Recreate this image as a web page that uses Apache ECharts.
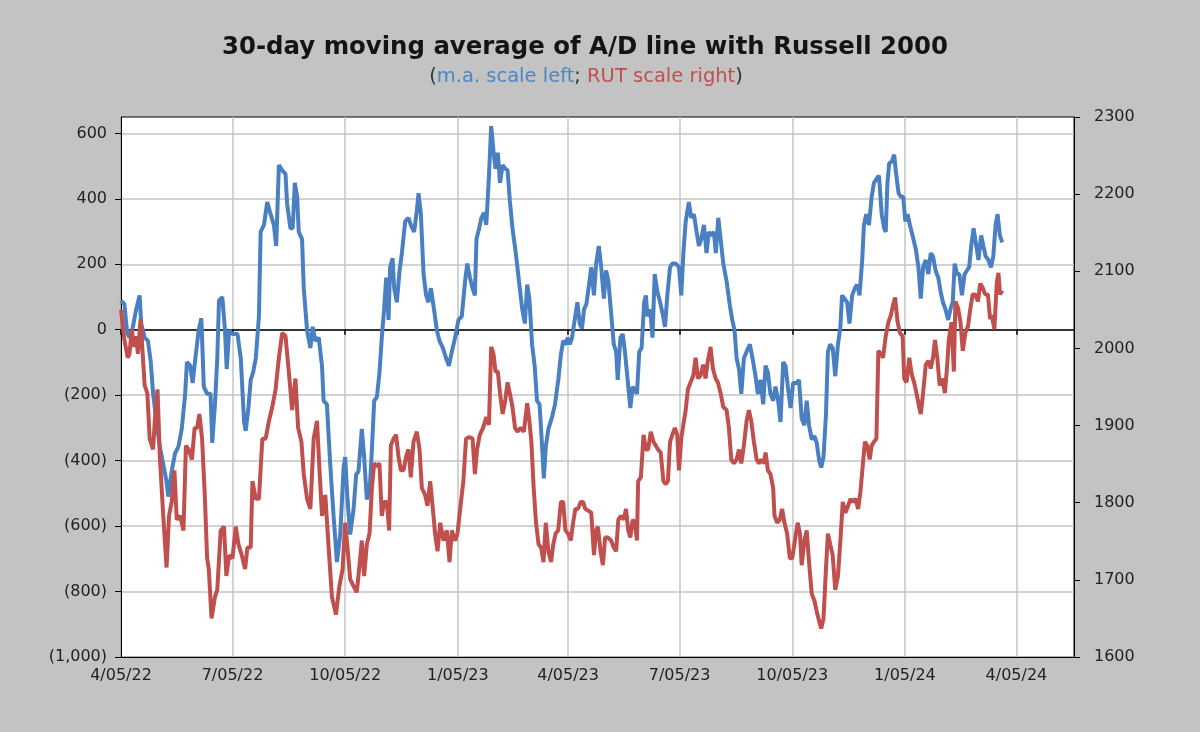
<!DOCTYPE html>
<html><head><meta charset="utf-8">
<script src="https://cdn.jsdelivr.net/npm/echarts@6/dist/echarts.min.js"></script>
<style>html,body{margin:0;padding:0;background:#c3c3c3}#c{width:1200px;height:732px}</style>
</head><body><div id="c"></div>
<script>
// ---- data ----
const startDate = '2022-04-05';
const endDay = 778;                       // right edge of the date axis, days after start
const quarterLabels = ['2022-04-05','2022-07-05','2022-10-05','2023-01-05','2023-04-05','2023-07-05','2023-10-05','2024-01-05','2024-04-05'];
const leftTicks = [-1000,-800,-600,-400,-200,0,200,400,600];
const rightTicks = [1600,1700,1800,1900,2000,2100,2200,2300];

// 30-day moving average of A/D line (left scale): day offset from startDate, value
const adDays = [0,2.8,5,6.9,9.7,12.4,15.2,16.5,19.3,22,24.3,26.2,29,31.7,34.5,37.2,38.6,41.4,44.1,46.9,49.6,52.4,53.8,56.5,58.5,60.7,63.4,65.6,67.6,70.3,73.1,74.5,76.7,78.6,80,82.7,84.9,86.3,88.3,91,95.1,97.8,100.5,101.8,104,105.9,107.8,110,112.6,114,116.7,119.4,122.1,124.8,126.7,128.9,131.6,134.3,135.6,138.3,140.2,141.9,143.8,145.1,147.8,149.2,151.9,154.6,156.5,158.7,161.4,164.1,165.4,168.1,170.8,173.6,176.3,179,181.7,
183,184.9,187.1,189.8,192,193.9,196.6,198.5,200.7,202.9,204.8,206.7,208.9,211,212.9,214.8,216.5,218.4,219.7,221.7,223,225.2,227.4,229.3,232,234.7,236.6,239.3,241.5,242.9,244.8,247,249.1,251,253,255.1,257.9,260,262.8,265.5,267.7,270.1,272.8,275.5,278.2,280.9,282.7,284.9,287,288.9,290.2,292.4,294.2,296.4,298.2,300.4,302.2,304.1,305.7,307.6,309.4,311.6,313.7,315.6,317.4,319.6,322.3,324.9,327.6,329.7,331.6,333.4,335.6,337.7,339.6,341.7,343.6,345.2,346.8,348.9,351.6,354.3,357,359.1,361,363.6,
364.5,366.4,368.2,370.4,372.6,374.5,376.3,378,379.9,381.7,383.9,386.1,387.9,390.1,392,394.2,396,397.9,400.1,402.3,404.2,405.5,407.7,409.6,411.4,413.6,415.8,417.7,419.5,421.2,423.1,425,427.1,428.5,429.8,432,433.9,435.7,437.9,440.1,442,444.1,446,448.2,450.1,452.8,455.5,457.4,459.1,461,463.6,465.5,467.7,469.9,471.8,473.7,475.9,478,479.9,481.8,484,485.6,487.6,489.5,491.7,494.4,497.1,499,500.9,502.6,504.5,506.4,508.5,510.7,513.4,515.6,518,519.9,522.1,524.3,526.2,528.1,530.2,532.4,534.3,536.5,538.4,540.6,542.5,544.4,546.6,548.7,
551.6,553.5,555.7,557.9,559.8,561.7,563.9,566.1,568,570,571.6,573.5,575.5,577.1,579,581,583.1,585.3,587.3,588.6,590,592.8,594.7,596.9,599.1,601,602.9,605.1,606.5,608.4,610.6,612.8,614.7,616.7,618.8,621,623,624.3,625.7,627.1,629.3,631.2,632.6,634.8,636.7,638.6,640.3,642.2,644,646.2,648.9,651,652.9,654.8,657,659.1,661,662.9,665,667.2,669.1,671,673.1,675.3,677.1,679,680.6,682.5,684.4,686.5,688.7,690.6,692.4,694.1,696,697.8,700,702.2,704,705.9,708.1,710.2,712.1,714,715.6,717.5,719.4];
const adValues = [89,78,-8,-24,9,62,105,19,-24,-34,-99,-196,-282,-357,-411,-465,-510,-432,-378,-357,-303,-196,-99,-110,-163,-88,-2,35,-174,-196,-196,-346,-228,-88,89,100,-2,-120,-2,-13,-13,-88,-282,-309,-239,-153,-131,-88,41,299,320,390,353,320,256,503,487,476,385,310,310,449,406,299,277,127,-2,-56,9,-34,-24,-110,-217,-228,-411,-572,-710,-626,-422,
-389,-518,-626,-551,-443,-432,-303,-389,-518,-497,-368,-217,-206,-131,-24,62,159,30,191,218,127,84,181,234,331,342,320,299,363,417,353,170,105,84,127,73,-2,-34,-56,-88,-110,-67,-24,30,41,148,202,159,127,105,277,310,342,358,320,471,622,546,492,541,449,503,492,487,396,310,234,148,62,19,138,95,-45,-110,-217,-228,-346,-454,-357,-303,-271,-228,-153,-77,-34,-45,
-24,-45,-24,30,84,19,3,62,78,127,191,105,202,256,191,95,181,148,52,-45,-67,-153,-24,-13,-67,-153,-239,-174,-185,-196,-67,-56,84,105,41,62,-24,170,116,84,52,9,105,191,202,202,191,105,234,331,390,342,353,299,256,277,320,234,299,288,299,234,342,277,202,148,73,30,-2,-88,-120,-196,-88,-67,-45,-88,-142,-196,-153,-228,-110,-131,-196,-217,-174,-217,-282,-99,-110,-174,-239,-163,
-163,-153,-271,-292,-217,-292,-335,-325,-346,-400,-421,-389,-260,-67,-45,-56,-142,-45,9,105,105,84,19,105,127,138,105,213,320,353,320,406,449,460,471,353,310,299,449,508,514,535,482,417,406,406,331,353,320,288,245,191,95,191,213,170,234,224,181,159,116,84,62,30,62,84,202,170,170,105,170,181,191,256,310,267,213,288,256,224,213,191,224,320,353,288,267];

// Russell 2000 (right scale): day offset from startDate, index level
const rutDays = [0,2.8,5.5,6.9,8.8,10.5,12.4,13.8,16,17.9,19.3,21.5,23.4,26.2,27.6,29.8,31.7,34.5,37.2,39.2,41.4,43.6,45.5,48.3,51,53,55.2,57.9,60.1,62.1,64,66.2,68.4,70.3,71.7,73.9,76.7,78.6,81.4,84.1,86,88.3,91,93.7,95.9,98.6,101.3,103.2,105.9,107.3,110,112.6,115.4,118.1,120.8,123.5,126.2,128.9,131.6,134.3,137,139.7,142.4,144.6,147.3,149.2,151.9,154.6,157.3,160,161.9,164.1,166.8,169.5,172.2,175.5,178.2,180.9,
183,184.9,187.1,189.8,192.5,194.7,196.6,198.5,200.7,202.9,204.8,206.7,208.9,211,212.9,214.8,217,218.9,220.3,222.5,224.6,226.5,228.5,230.6,232.8,234.7,236.6,238.8,241.5,243.7,245.6,248.3,250.2,252.4,254.6,256.4,258.4,260.6,263.3,266,268.2,270.1,272.8,274.7,276.9,279.5,281.7,284.3,287,288.9,290.7,292.9,295.6,298.2,300.4,302.2,304.1,305.7,307.6,309.4,311.6,313.7,315.6,317.4,319.6,321.7,323.6,326.2,328.9,331.6,333.4,335,336.9,338.8,340.9,343,344.9,346.8,348.9,351.1,352.9,354.8,356.9,359.1,361,362.8,
365,367.2,369.1,370.9,373.1,375.3,377.2,379,381.2,383.9,386.1,387.9,389.3,391.5,393.4,395.2,397.4,400.1,402.3,404.2,406,408.2,410.4,412.3,414.1,415.8,417.7,419.5,421.2,422.2,424.4,426.6,428.5,430.3,432.5,434.7,436.6,438.4,440.6,442.8,444.6,446.5,448.2,450.1,452.2,454.1,455.5,457.4,459.1,461,462.8,465,467.2,469.1,471,473.1,475.3,477.2,479.1,481.3,483.2,485.4,487.3,489.5,491.7,494.4,496.3,498.2,500.4,502.6,504.5,506.4,508.5,510.7,512.6,514.5,516.7,518.9,520.8,522.7,524.9,526.2,528.1,530.2,532.4,533.5,535.7,537.8,539.7,541.6,543.8,546,
548,550.2,552.4,554.3,555.7,557.9,559.8,561.7,563.9,566.1,568,570,571.6,573.5,575.5,577.1,579,581,583.1,585.3,587.3,589.2,591.4,593.6,595.5,597.4,599.6,601.8,603.7,605.7,607.3,609.2,611.2,612.8,614.7,616.7,618.3,620.2,622.1,624.3,626.5,628.5,630.4,632,634,635.9,638.1,639.4,641.3,643.5,645.7,647.5,649.4,651.6,652.9,654.8,657,659.1,661,662.9,664.5,666.4,668.3,670.6,672.6,674.5,675.8,678,679.9,681.2,683.4,685.3,687.2,689.3,691.5,693.4,695.3,697.4,699.6,701.5,703.4,705.5,707.7,709.5,710.9,713,714.9,716.3,717.6,719.5];
const rutValues = [2050,2011,1988,1993,2025,2002,2016,1993,2038,1988,1952,1942,1883,1869,1906,1947,1860,1783,1716,1783,1801,1842,1778,1783,1764,1874,1869,1856,1897,1897,1915,1883,1810,1728,1714,1650,1678,1687,1764,1769,1705,1732,1728,1769,1746,1732,1714,1742,1742,1828,1805,1805,1883,1883,1906,1924,1947,1988,2020,2016,1970,1920,1961,1897,1879,1837,1805,1792,1883,1906,1847,1783,1810,1742,1678,1655,1691,1714,
1774,1742,1701,1692,1684,1719,1751,1705,1746,1760,1819,1851,1847,1851,1783,1801,1801,1764,1874,1883,1888,1860,1842,1842,1860,1869,1833,1879,1892,1869,1819,1810,1796,1828,1792,1760,1737,1774,1751,1764,1723,1764,1751,1760,1792,1828,1883,1885,1883,1837,1869,1888,1897,1911,1901,2002,1993,1970,1970,1942,1915,1933,1956,1942,1924,1897,1892,1897,1892,1929,1906,1879,1819,1774,1746,1742,1723,1774,1737,1723,1746,1760,1764,1801,1801,1764,
1760,1751,1774,1792,1792,1801,1801,1792,1790,1787,1732,1764,1769,1737,1719,1755,1755,1751,1742,1737,1778,1783,1778,1792,1764,1755,1778,1774,1751,1828,1833,1888,1869,1869,1892,1879,1874,1869,1865,1828,1824,1828,1879,1888,1897,1888,1842,1883,1901,1920,1947,1956,1965,1988,1961,1965,1979,1961,1984,2002,1974,1961,1956,1942,1924,1920,1897,1856,1851,1856,1869,1851,1874,1906,1920,1906,1879,1856,1851,1856,1851,1865,1842,1837,1819,1783,1774,1778,1792,1774,1760,1728,
1728,1751,1774,1760,1719,1751,1764,1723,1682,1673,1659,1646,1637,1650,1714,1760,1746,1732,1687,1705,1751,1801,1787,1796,1805,1801,1805,1792,1815,1851,1879,1874,1856,1874,1879,1883,1997,1993,1988,2016,2034,2043,2057,2066,2034,2020,2016,1961,1956,1988,1965,1956,1942,1924,1915,1942,1979,1984,1974,1988,2011,1988,1952,1961,1942,1979,2011,2034,1970,2061,2052,2034,1997,2020,2029,2052,2070,2070,2061,2084,2079,2070,2070,2038,2043,2025,2084,2098,2070,2075];

// ---- build ----
const DAY = 86400000;
function parseUTC(s){ const p = s.split('-').map(Number); return Date.UTC(p[0], p[1]-1, p[2]); }
const t0 = parseUTC(startDate);
const qTicks = quarterLabels.map(s => Math.round((parseUTC(s) - t0) / DAY));
const adData = adDays.map((d,i) => [d, adValues[i]]);
const rutData = rutDays.map((d,i) => [d, rutValues[i]]);
function fmtDate(v){ const d = new Date(t0 + Math.round(v)*DAY); const dd = d.getUTCDate(); return (d.getUTCMonth()+1) + '/' + (dd<10?'0':'') + dd + '/' + String(d.getUTCFullYear()).slice(2); }
function fmtLeft(v){ if (v < 0) return '(' + Math.abs(v).toLocaleString('en-US') + ')'; return String(v); }

const FONT = 'DejaVu Sans';
const chart = echarts.init(document.getElementById('c'), null, {renderer:'canvas'});
chart.setOption({
  backgroundColor: '#c3c3c3',
  animation: false,
  title: [{
    text: '30-day moving average of A/D line with Russell 2000',
    left: 580, top: 31, textAlign: 'center',
    textStyle: {fontFamily: FONT, fontWeight: 'bold', fontSize: 24.4, color: '#141414'}
  },{
    text: '{p|(}{b|m.a. scale left}{p|; }{r|RUT scale right}{p|)}',
    left: 581, top: 62, textAlign: 'center',
    textStyle: {fontFamily: FONT, fontWeight: 'normal', fontSize: 19.5, rich: {
      p: {fontFamily: FONT, fontWeight: 'normal', fontSize: 19.5, color: '#333'},
      b: {fontFamily: FONT, fontWeight: 'normal', fontSize: 19.5, color: '#4a86c8'},
      r: {fontFamily: FONT, fontWeight: 'normal', fontSize: 19.5, color: '#c0504d'}
    }}
  }],
  grid: {left: 121, right: 126, top: 117, bottom: 75, show: true, backgroundColor: '#ffffff', borderColor: '#000', borderWidth: 1},
  xAxis: [{
    type: 'value', min: 0, max: endDay, position: 'bottom',
    axisLine: {onZero: false, lineStyle: {color: '#000', width: 1}},
    axisTick: {show: false, customValues: qTicks},
    axisLabel: {customValues: qTicks, formatter: fmtDate, color: '#222', fontFamily: FONT, fontSize: 16, margin: 11},
    splitLine: {show: true, lineStyle: {color: '#c4c4c4', width: 1.5}}
  },{
    type: 'value', min: 0, max: endDay, position: 'top',
    axisLine: {show: true, onZero: true, onZeroAxisIndex: 0, lineStyle: {color: '#000', width: 1.5}},
    axisTick: {show: true, customValues: qTicks, inside: true, length: 5, lineStyle: {color: '#000', width: 1.5}},
    axisLabel: {show: false},
    splitLine: {show: false}
  }],
  yAxis: [{
    type: 'value', min: -1000, max: 650, position: 'left',
    axisLine: {show: true, onZero: false, lineStyle: {color: '#000', width: 1}},
    axisTick: {show: true, length: 6, customValues: leftTicks, lineStyle: {color: '#000'}},
    axisLabel: {customValues: leftTicks, formatter: fmtLeft, color: '#222', fontFamily: FONT, fontSize: 16, margin: 14},
    splitLine: {show: true, lineStyle: {color: '#c4c4c4', width: 1.5}}
  },{
    type: 'value', min: 1600, max: 2300, position: 'right',
    axisLine: {show: true, onZero: false, lineStyle: {color: '#000', width: 1}},
    axisTick: {show: true, length: 6, customValues: rightTicks, lineStyle: {color: '#000'}},
    axisLabel: {customValues: rightTicks, formatter: v => String(v), color: '#222', fontFamily: FONT, fontSize: 16, margin: 20},
    splitLine: {show: false}
  }],
  series: [{
    name: 'A/D 30-day m.a.', type: 'line', xAxisIndex: 0, yAxisIndex: 0, data: adData,
    showSymbol: false, lineStyle: {color: '#4a7fc1', width: 4}, itemStyle: {color: '#4a7fc1'}, z: 3
  },{
    name: 'Russell 2000', type: 'line', xAxisIndex: 0, yAxisIndex: 1, data: rutData,
    showSymbol: false, lineStyle: {color: '#c0504d', width: 4}, itemStyle: {color: '#c0504d'}, z: 4
  }]
});
</script></body></html>
